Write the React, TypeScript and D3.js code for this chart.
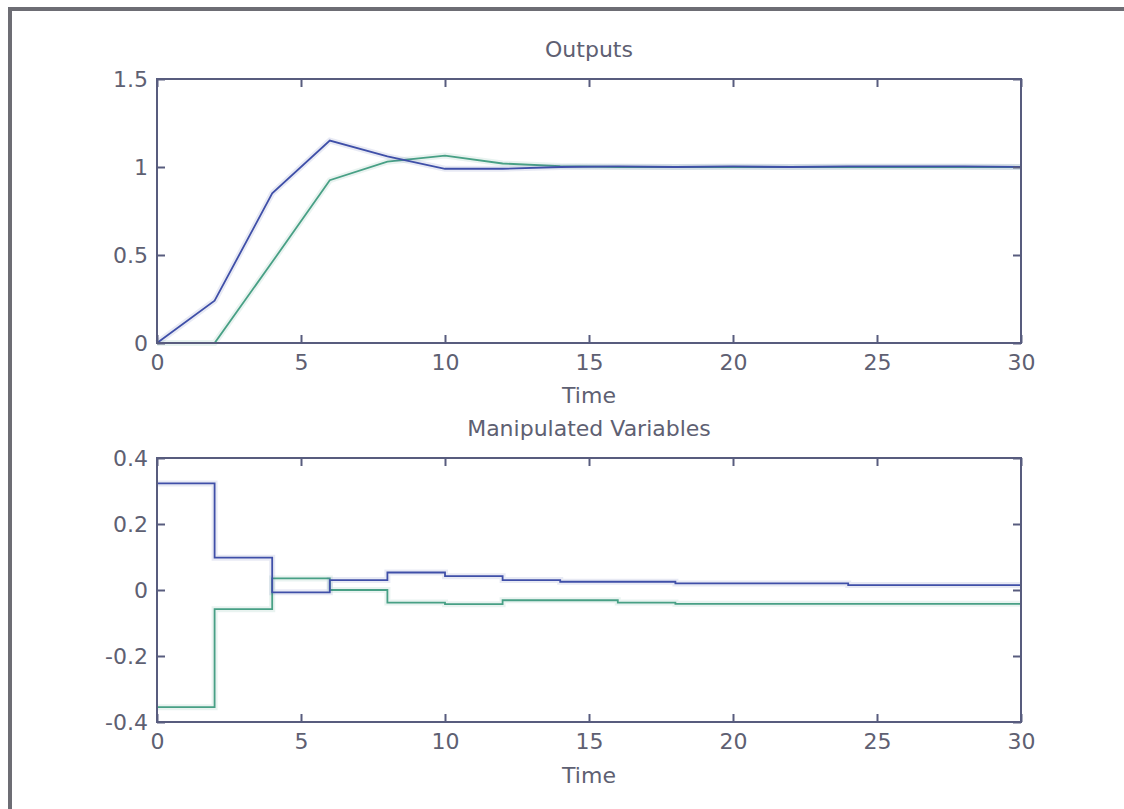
import React, { useEffect, useRef } from "react";
import * as d3 from "d3";

// sample instants (controller runs every 2 time units)
const timeSteps = [0, 2, 4, 6, 8, 10, 12, 14, 16, 18, 20, 22, 24, 26, 28, 30];

// Outputs panel
const outputBlue = [0, 0.24, 0.85, 1.15, 1.06, 0.99, 0.99, 1.0, 1.003, 1.0, 1.003, 1.0, 1.003, 1.003, 1.003, 1.0];
const outputGreen = [0, 0, 0.46, 0.925, 1.03, 1.065, 1.02, 1.005, 1.0, 1.0, 1.0, 1.0, 1.0, 1.0, 1.0, 1.0];

// Manipulated variables panel (held between samples)
const inputBlue = [0.323, 0.098, -0.007, 0.03, 0.053, 0.042, 0.03, 0.025, 0.025, 0.02, 0.02, 0.02, 0.015, 0.015, 0.015, 0.015];
const inputGreen = [-0.355, -0.058, 0.035, 0.0, -0.038, -0.043, -0.031, -0.031, -0.038, -0.042, -0.042, -0.042, -0.042, -0.042, -0.042, -0.042];

const timeTicks = [0, 5, 10, 15, 20, 25, 30];
const outputTicks = [0, 0.5, 1, 1.5];
const inputTicks = [-0.4, -0.2, 0, 0.2, 0.4];

const AXIS = "#585c7e";
const TEXT = "#5e6072";
const BLUE = "#3f4fa8";
const GREEN = "#48a085";
const FONT = "'DejaVu Sans', Verdana, sans-serif";

const drawPanel = (svg, opts) => {
    const { top, bottom, left, right, yDomain, yTicks, series, curve, title, titleY, xLabelY } = opts;

    const x = d3.scaleLinear().domain([0, 30]).range([left, right]);
    const y = d3.scaleLinear().domain(yDomain).range([bottom, top]);

    const g = svg.append("g");

    const line = d3.line()
        .x((d) => x(d[0]))
        .y((d) => y(d[1]))
        .curve(curve);

    series.forEach((s) => {
        // soft halo like the scanned original
        g.append("path")
            .datum(timeSteps.map((t, i) => [t, s.values[i]]))
            .attr("d", line)
            .attr("fill", "none")
            .attr("stroke", s.color)
            .attr("stroke-opacity", 0.12)
            .attr("stroke-width", 6);
        g.append("path")
            .datum(timeSteps.map((t, i) => [t, s.values[i]]))
            .attr("d", line)
            .attr("fill", "none")
            .attr("stroke", s.color)
            .attr("stroke-width", 1.8);
    });

    const styleAxis = (sel) => {
        sel.select(".domain").remove();
        sel.selectAll("line").attr("stroke", AXIS).attr("stroke-width", 2);
        sel.selectAll("text")
            .attr("fill", TEXT)
            .style("font-family", FONT)
            .style("font-size", "22px");
    };

    g.append("g")
        .attr("transform", `translate(0,${bottom})`)
        .call(d3.axisBottom(x).tickValues(timeTicks).tickSize(-8).tickPadding(11).tickFormat((d) => String(d)))
        .call(styleAxis);

    g.append("g")
        .attr("transform", `translate(0,${top})`)
        .call(d3.axisTop(x).tickValues(timeTicks).tickSize(-8).tickFormat(() => ""))
        .call(styleAxis);

    g.append("g")
        .attr("transform", `translate(${left},0)`)
        .call(d3.axisLeft(y).tickValues(yTicks).tickSize(-8).tickPadding(9).tickFormat((d) => String(d)))
        .call(styleAxis);

    g.append("g")
        .attr("transform", `translate(${right},0)`)
        .call(d3.axisRight(y).tickValues(yTicks).tickSize(-8).tickFormat(() => ""))
        .call(styleAxis);

    g.append("rect")
        .attr("x", left)
        .attr("y", top)
        .attr("width", right - left)
        .attr("height", bottom - top)
        .attr("fill", "none")
        .attr("stroke", AXIS)
        .attr("stroke-width", 2);

    const mid = (left + right) / 2;
    g.append("text")
        .text(title)
        .attr("x", mid)
        .attr("y", titleY)
        .attr("text-anchor", "middle")
        .attr("fill", TEXT)
        .style("font-family", FONT)
        .style("font-size", "22px");

    g.append("text")
        .text("Time")
        .attr("x", mid)
        .attr("y", xLabelY)
        .attr("text-anchor", "middle")
        .attr("fill", TEXT)
        .style("font-family", FONT)
        .style("font-size", "22px");
};

const App = () => {
    const d3Container = useRef(null);

    useEffect(() => {
        document.body.style.margin = "0";
        const svg = d3.select(d3Container.current);
        svg.selectAll("*").remove();

        svg.append("rect")
            .attr("width", 1124)
            .attr("height", 809)
            .attr("fill", "#ffffff");

        // scanned frame: only the left and top edges are in view
        svg.append("path")
            .attr("d", "M10,809 L10,9 L1124,9")
            .attr("fill", "none")
            .attr("stroke", "#6d6d74")
            .attr("stroke-width", 4);

        drawPanel(svg, {
            top: 79, bottom: 343, left: 157, right: 1021,
            yDomain: [0, 1.5], yTicks: outputTicks,
            series: [{ values: outputGreen, color: GREEN }, { values: outputBlue, color: BLUE }],
            curve: d3.curveLinear,
            title: "Outputs", titleY: 57, xLabelY: 403,
        });

        drawPanel(svg, {
            top: 458, bottom: 722, left: 157, right: 1021,
            yDomain: [-0.4, 0.4], yTicks: inputTicks,
            series: [{ values: inputGreen, color: GREEN }, { values: inputBlue, color: BLUE }],
            curve: d3.curveStepAfter,
            title: "Manipulated Variables", titleY: 436, xLabelY: 783,
        });
    }, []);

    return (
        <svg ref={d3Container} width={1124} height={809} style={{ display: "block" }} />
    );
};

export default App;
